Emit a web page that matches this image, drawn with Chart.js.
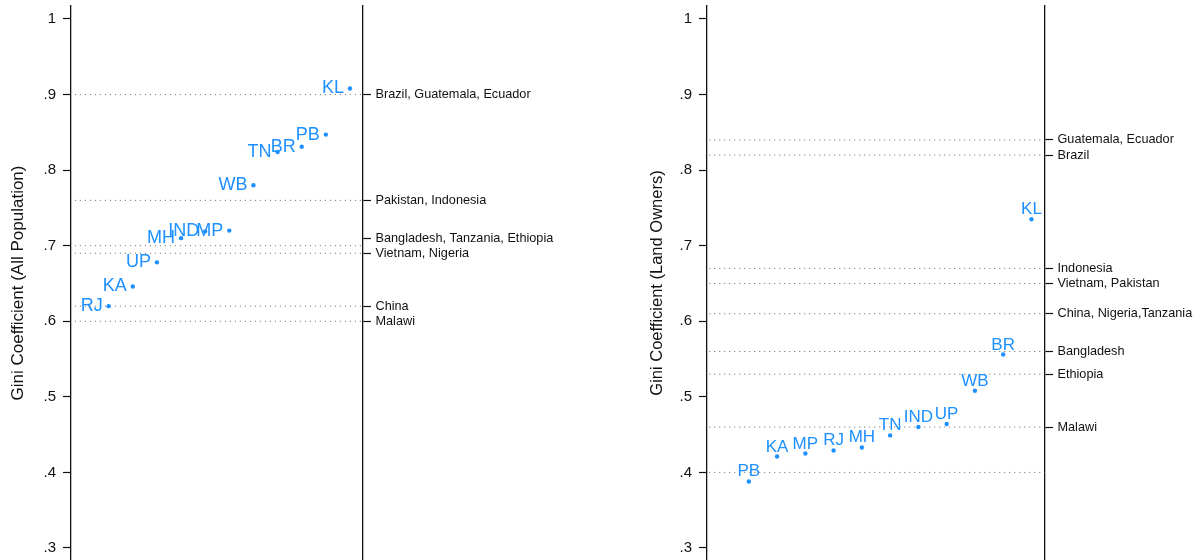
<!DOCTYPE html>
<html>
<head>
<meta charset="utf-8">
<script src="https://cdn.jsdelivr.net/npm/chart.js@4.4.1/dist/chart.umd.min.js"></script>
<style>
  html, body { margin: 0; padding: 0; background: #fff; overflow: hidden; width: 1200px; height: 560px; }
  canvas { position: absolute; top: 0; }
  #giniAll { left: 0; }
  #giniOwners { left: 640px; }
</style>
</head>
<body>
<canvas id="giniAll" width="640" height="560"></canvas>
<canvas id="giniOwners" width="560" height="560"></canvas>
<script>
// Indian states, ordered by Gini coefficient within each panel
const statesAll = ['RJ', 'KA', 'UP', 'MH', 'IND', 'MP', 'WB', 'TN', 'BR', 'PB', 'KL'];
const giniAll = [0.620, 0.646, 0.678, 0.710, 0.719, 0.720, 0.780, 0.824, 0.831, 0.847, 0.908];

const statesOwners = ['PB', 'KA', 'MP', 'RJ', 'MH', 'TN', 'IND', 'UP', 'WB', 'BR', 'KL'];
const giniOwners = [0.388, 0.421, 0.425, 0.429, 0.433, 0.449, 0.460, 0.464, 0.508, 0.556, 0.735];

// Left-axis ticks
const yTicks = [0.3, 0.4, 0.5, 0.6, 0.7, 0.8, 0.9, 1];
const yTickLabels = ['.3', '.4', '.5', '.6', '.7', '.8', '.9', '1'];

// Country benchmarks: right-axis labels and dotted reference lines
const countryTicksAll = [0.90, 0.76, 0.71, 0.69, 0.62, 0.60];
const countryLabelsAll = ['Brazil, Guatemala, Ecuador', 'Pakistan, Indonesia', 'Bangladesh, Tanzania, Ethiopia', 'Vietnam, Nigeria', 'China', 'Malawi'];
const refLinesAll = [0.90, 0.76, 0.70, 0.69, 0.62, 0.60];

const countryTicksOwners = [0.84, 0.82, 0.67, 0.65, 0.61, 0.56, 0.53, 0.46];
const countryLabelsOwners = ['Guatemala, Ecuador', 'Brazil', 'Indonesia', 'Vietnam, Pakistan', 'China, Nigeria,Tanzania', 'Bangladesh', 'Ethiopia', 'Malawi'];
const refLinesOwners = [0.84, 0.82, 0.67, 0.65, 0.61, 0.56, 0.53, 0.46, 0.40];

const FONT = "'Liberation Sans', Arial, Helvetica, sans-serif";
const BLUE = '#1E90FF';
const Y_MIN = 0.2841;
const Y_MAX = 1.0172;

// Draws each state's code next to its marker
const pointLabels = {
  id: 'pointLabels',
  afterDatasetsDraw(chart) {
    const ds = chart.data.datasets[0];
    const meta = chart.getDatasetMeta(0);
    const ctx = chart.ctx;
    ctx.save();
    ctx.font = ds.labelFontSize + 'px ' + FONT;
    ctx.fillStyle = BLUE;
    meta.data.forEach((pt, i) => {
      const txt = ds.stateLabels[i];
      if (ds.labelPosition === 'left') {
        ctx.textAlign = 'right';
        ctx.textBaseline = 'middle';
        ctx.fillText(txt, pt.x - 6, pt.y);
      } else {
        ctx.textAlign = 'center';
        ctx.textBaseline = 'alphabetic';
        ctx.fillText(txt, pt.x, pt.y - 5);
      }
    });
    ctx.restore();
  }
};

function makePanel(id, opt) {
  const datasets = [{
    data: opt.values.map((v, i) => ({ x: i + 1, y: v })),
    stateLabels: opt.states,
    labelPosition: opt.labelPosition,
    labelFontSize: opt.labelFontSize,
    pointRadius: 2.2,
    pointBackgroundColor: BLUE,
    pointBorderWidth: 0,
    showLine: false,
    order: 0
  }];
  opt.refLines.forEach(v => {
    datasets.push({
      data: [{ x: opt.lineStart, y: v }, { x: opt.xMax, y: v }],
      showLine: true,
      borderColor: '#666',
      borderWidth: 1,
      borderDash: [1, 4],
      pointRadius: 0,
      order: 1
    });
  });

  return new Chart(document.getElementById(id), {
    type: 'scatter',
    data: { datasets },
    plugins: [pointLabels],
    options: {
      responsive: false,
      animation: false,
      events: [],
      layout: { autoPadding: false, padding: { top: 6, bottom: 0, left: 0, right: 0 } },
      plugins: { legend: { display: false }, tooltip: { enabled: false } },
      scales: {
        x: { type: 'linear', display: false, min: opt.xMin, max: opt.xMax },
        y: {
          type: 'linear', position: 'left', min: Y_MIN, max: Y_MAX,
          afterBuildTicks: s => { s.ticks = yTicks.map(v => ({ value: v })); },
          afterFit: s => { s.width = opt.leftWidth; s.paddingTop = 0; s.paddingBottom = 0; },
          ticks: {
            autoSkip: false, padding: 7, color: '#111',
            font: { family: FONT, size: 15 },
            callback: (v, i) => yTickLabels[i]
          },
          grid: { drawOnChartArea: false, drawTicks: true, tickLength: 8, tickColor: '#111', tickWidth: 1.2 },
          border: { display: true, color: '#111', width: 1.3 },
          title: {
            display: true, text: opt.title, color: '#111',
            font: { family: FONT, size: opt.titleSize }, padding: { top: 8, bottom: 0 }
          }
        },
        y2: {
          type: 'linear', position: 'right', min: Y_MIN, max: Y_MAX,
          afterBuildTicks: s => { s.ticks = opt.countryTicks.map(v => ({ value: v })); },
          afterFit: s => { s.width = opt.rightWidth; s.paddingTop = 0; s.paddingBottom = 0; },
          ticks: {
            autoSkip: false, padding: 4.5, color: '#111',
            font: { family: FONT, size: 12.7 },
            callback: (v, i) => opt.countryLabels[i]
          },
          grid: { drawOnChartArea: false, drawTicks: true, tickLength: 8, tickColor: '#111', tickWidth: 1.2 },
          border: { display: true, color: '#111', width: 1.3 }
        }
      }
    }
  });
}

makePanel('giniAll', {
  states: statesAll, values: giniAll, labelPosition: 'left', labelFontSize: 18,
  refLines: refLinesAll, countryTicks: countryTicksAll, countryLabels: countryLabelsAll,
  title: 'Gini Coefficient (All Population)', titleSize: 17,
  xMin: -0.56, xMax: 11.54, lineStart: -0.4, leftWidth: 71, rightWidth: 277
});

makePanel('giniOwners', {
  states: statesOwners, values: giniOwners, labelPosition: 'top', labelFontSize: 17,
  refLines: refLinesOwners, countryTicks: countryTicksOwners, countryLabels: countryLabelsOwners,
  title: 'Gini Coefficient (Land Owners)', titleSize: 16.5,
  xMin: -0.48, xMax: 11.48, lineStart: -0.4, leftWidth: 67, rightWidth: 155
});
</script>
</body>
</html>
